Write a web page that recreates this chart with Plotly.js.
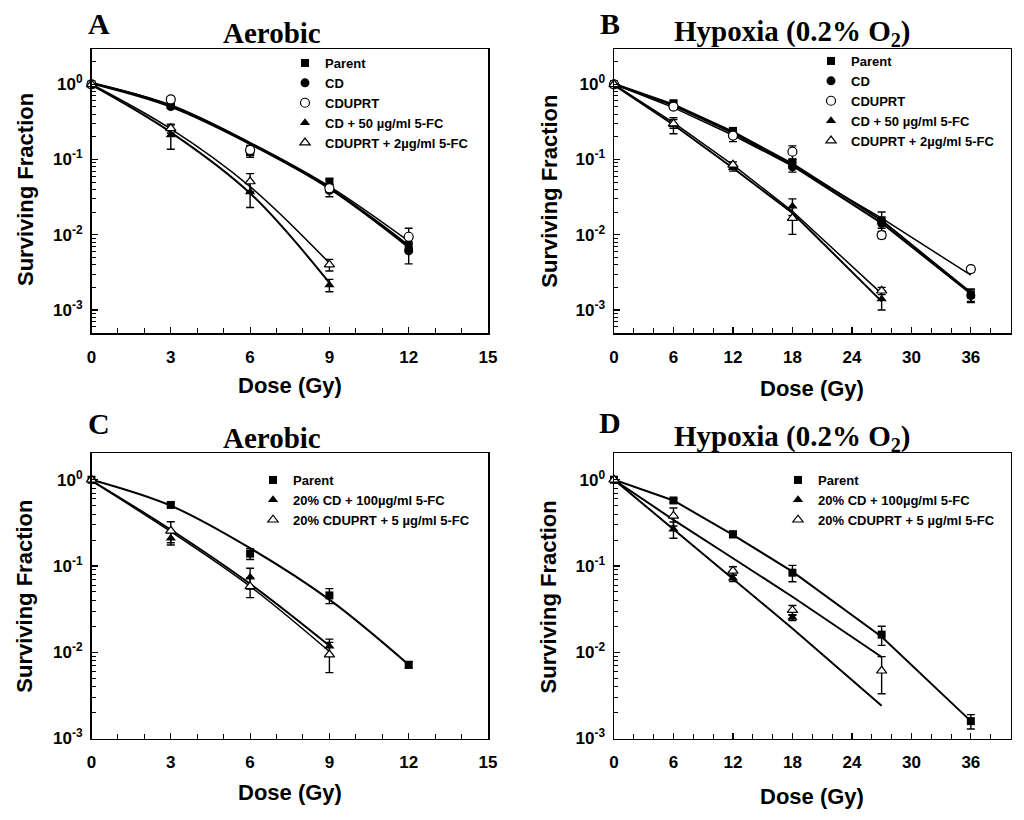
<!DOCTYPE html>
<html><head><meta charset="utf-8">
<script src="https://cdn.plot.ly/plotly-3.0.1.min.js"></script>
<style>html,body{margin:0;padding:0;background:#fff}#chart{width:1024px;height:820px}</style>
</head><body><div id="chart"></div>
<script>
// ---------- Panel A: Aerobic ----------
const doseA = [0, 3, 6, 9, 12];
const doseA4 = [0, 3, 6, 9];
const A_parent = [1, 0.53, 0.127, 0.051, 0.0070];
const A_parent_err = [null, 0.03, 0.012, 0.004, 0.0008];
const A_cd = [1, 0.505, 0.127, 0.039, 0.0061];
const A_cd_err = [null, 0.03, 0.02, 0.007, 0.002];
const A_cduprt = [1, 0.63, 0.134, 0.0415, 0.0094];
const A_cduprt_err = [null, 0.05, 0.02, 0.005, 0.0028];
const A_cd5fc = [1, 0.212, 0.037, 0.00215];
const A_cd5fc_err = [null, 0.075, 0.014, 0.0004];
const A_cduprt5fc = [1, 0.26, 0.051, 0.0040];
const A_cduprt5fc_err = [null, 0.035, 0.014, 0.0007];
const A_parent_fit = [1.04, 0.52, 0.165, 0.042, 0.0072];
const A_cd_fit = [1.02, 0.50, 0.160, 0.041, 0.0068];
const A_cduprt_fit = [1.05, 0.53, 0.168, 0.044, 0.0082];
const A_cd5fc_fit = [0.98, 0.23, 0.0356, 0.0023];
const A_cduprt5fc_fit = [1.0, 0.255, 0.0436, 0.0042];

// ---------- Panel B: Hypoxia ----------
const doseB = [0, 6, 12, 18, 27, 36];
const doseB5 = [0, 6, 12, 18, 27];
const B_parent = [1, 0.56, 0.24, 0.089, 0.0156, 0.0016];
const B_parent_err = [null, 0.04, 0.02, 0.012, 0.0045, 0.0003];
const B_cd = [1, 0.505, 0.22, 0.080, 0.0142, 0.00156];
const B_cd_err = [null, 0.03, 0.02, 0.012, 0.002, 0.0003];
const B_cduprt = [1, 0.505, 0.208, 0.127, 0.0099, 0.0035];
const B_cduprt_err = [null, 0.03, 0.035, 0.025, 0.001, 0.0003];
const B_cd5fc = [1, 0.29, 0.078, 0.024, 0.0014];
const B_cd5fc_err = [null, 0.07, 0.008, 0.006, 0.0004];
const B_cduprt5fc = [1, 0.30, 0.085, 0.0166, 0.0018];
const B_cduprt5fc_err = [null, 0.04, 0.008, 0.0065, 0.0002];
const B_parent_fit = [1.02, 0.54, 0.235, 0.088, 0.0155, 0.0017];
const B_cd_fit = [1.0, 0.52, 0.225, 0.083, 0.0143, 0.00165];
const B_cduprt_fit = [1.0, 0.49, 0.21, 0.082, 0.0166, 0.0029];
const B_cd5fc_fit = [0.98, 0.29, 0.077, 0.0195, 0.0013];
const B_cduprt5fc_fit = [1.0, 0.31, 0.085, 0.0205, 0.00165];

// ---------- Panel C: Aerobic, 20% mixtures ----------
const doseC = [0, 3, 6, 9, 12];
const doseC4 = [0, 3, 6, 9];
const C_parent = [1, 0.51, 0.139, 0.0456, 0.00716];
const C_parent_err = [null, 0.03, 0.02, 0.009, 0.0006];
const C_cd100 = [1, 0.21, 0.074, 0.0117];
const C_cd100_err = [null, 0.035, 0.02, 0.0025];
const C_cduprt5 = [1, 0.256, 0.058, 0.0094];
const C_cduprt5_err = [null, 0.07, 0.015, 0.0036];
const C_parent_fit = [1, 0.50, 0.161, 0.0407, 0.00716];
const C_cd100_fit = [0.98, 0.263, 0.062, 0.0119];
const C_cduprt5_fit = [0.97, 0.25, 0.058, 0.0102];

// ---------- Panel D: Hypoxia, 20% mixtures ----------
const doseD = [0, 6, 12, 18, 27, 36];
const doseD4 = [0, 6, 12, 18];
const doseD5 = [0, 6, 12, 18, 27];
const D_parent = [1, 0.575, 0.233, 0.0836, 0.016, 0.00159];
const D_parent_err = [null, 0.03, 0.02, 0.018, 0.004, 0.0003];
const D_cd100 = [1, 0.267, 0.072, 0.0253];
const D_cd100_err = [null, 0.057, 0.006, 0.002];
const D_cduprt5 = [1, 0.381, 0.088, 0.0308, 0.0061];
const D_cduprt5_err = [null, 0.09, 0.01, 0.004, 0.0028];
const D_parent_fit = [1, 0.575, 0.23, 0.086, 0.0151, 0.00159];
const D_cd100_fit = [1, 0.267, 0.072, 0.0189, 0.0024];
const D_cduprt5_fit = [1, 0.343, 0.123, 0.044, 0.0088];

// ---------- labels ----------
const namesAB = ['Parent', 'CD', 'CDUPRT', 'CD + 50 \u00b5g/ml 5-FC', 'CDUPRT + 2\u00b5g/ml 5-FC'];
const namesCD = ['Parent', '20% CD + 100\u00b5g/ml 5-FC', '20% CDUPRT + 5 \u00b5g/ml 5-FC'];
const yTickVals = [1, 0.1, 0.01, 0.001];
const yTickText = ['10<sup>0</sup>', '10<sup>-1</sup>', '10<sup>-2</sup>', '10<sup>-3</sup>'];
const titleAer = 'Aerobic';
const titleHyp = 'Hypoxia (0.2% O<sub>2</sub>)';
const yTitle = 'Surviving Fraction';
const xTitle = 'Dose (Gy)';

const SANS = '"Liberation Sans", Arial, sans-serif';
const SERIF = '"Liberation Serif", "Times New Roman", serif';

const ST = {
  sq:   {symbol: 'square', size: 8, fill: '#000', lw: 0},
  ci:   {symbol: 'circle', size: 9, fill: '#000', lw: 0},
  oci:  {symbol: 'circle', size: 9, fill: '#fff', lw: 1.2},
  tri:  {symbol: 'triangle-up', size: 9, fill: '#000', lw: 0},
  otri: {symbol: 'triangle-up', size: 9, fill: '#fff', lw: 1.2}
};

function axn(i) { return i === 1 ? '' : String(i); }
function marks(x, y, err, name, st, ax, leg) {
  return {type: 'scatter', mode: 'markers', x: x, y: y, name: name,
    xaxis: 'x' + axn(ax), yaxis: 'y' + axn(ax), legend: leg, showlegend: true,
    marker: {symbol: st.symbol, size: st.size, color: st.fill, line: {color: '#000', width: st.lw}},
    error_y: {type: 'data', array: err, visible: true, color: '#000', thickness: 1.4, width: 4},
    cliponaxis: false, hoverinfo: 'skip'};
}
function fit(x, y, ax, shape, w) {
  return {type: 'scatter', mode: 'lines', x: x, y: y, showlegend: false,
    xaxis: 'x' + axn(ax), yaxis: 'y' + axn(ax),
    line: {color: '#000', width: w || 2, shape: shape, smoothing: 1}, hoverinfo: 'skip'};
}

const traces = [
  fit(doseA, A_parent_fit, 1, 'spline'), fit(doseA, A_cd_fit, 1, 'spline'), fit(doseA, A_cduprt_fit, 1, 'spline', 1.5),
  fit(doseA4, A_cd5fc_fit, 1, 'spline'), fit(doseA4, A_cduprt5fc_fit, 1, 'spline', 1.5),
  fit(doseB, B_parent_fit, 2, 'linear'), fit(doseB, B_cd_fit, 2, 'linear'), fit(doseB, B_cduprt_fit, 2, 'linear', 1.5),
  fit(doseB5, B_cd5fc_fit, 2, 'linear'), fit(doseB5, B_cduprt5fc_fit, 2, 'linear', 1.5),
  fit(doseC, C_parent_fit, 3, 'spline'), fit(doseC4, C_cd100_fit, 3, 'spline'), fit(doseC4, C_cduprt5_fit, 3, 'spline', 1.5),
  fit(doseD, D_parent_fit, 4, 'linear'), fit(doseD5, D_cd100_fit, 4, 'linear'), fit(doseD5, D_cduprt5_fit, 4, 'linear'),

  marks(doseA, A_parent, A_parent_err, namesAB[0], ST.sq, 1, 'legend'),
  marks(doseA, A_cd, A_cd_err, namesAB[1], ST.ci, 1, 'legend'),
  marks(doseA, A_cduprt, A_cduprt_err, namesAB[2], ST.oci, 1, 'legend'),
  marks(doseA4, A_cd5fc, A_cd5fc_err, namesAB[3], ST.tri, 1, 'legend'),
  marks(doseA4, A_cduprt5fc, A_cduprt5fc_err, namesAB[4], ST.otri, 1, 'legend'),

  marks(doseB, B_parent, B_parent_err, namesAB[0], ST.sq, 2, 'legend2'),
  marks(doseB, B_cd, B_cd_err, namesAB[1], ST.ci, 2, 'legend2'),
  marks(doseB, B_cduprt, B_cduprt_err, namesAB[2], ST.oci, 2, 'legend2'),
  marks(doseB5, B_cd5fc, B_cd5fc_err, namesAB[3], ST.tri, 2, 'legend2'),
  marks(doseB5, B_cduprt5fc, B_cduprt5fc_err, namesAB[4], ST.otri, 2, 'legend2'),

  marks(doseC, C_parent, C_parent_err, namesCD[0], ST.sq, 3, 'legend3'),
  marks(doseC4, C_cd100, C_cd100_err, namesCD[1], ST.tri, 3, 'legend3'),
  marks(doseC4, C_cduprt5, C_cduprt5_err, namesCD[2], ST.otri, 3, 'legend3'),

  marks(doseD, D_parent, D_parent_err, namesCD[0], ST.sq, 4, 'legend4'),
  marks(doseD4, D_cd100, D_cd100_err, namesCD[1], ST.tri, 4, 'legend4'),
  marks(doseD5, D_cduprt5, D_cduprt5_err, namesCD[2], ST.otri, 4, 'legend4')
];

const W = 1024, H = 820;
const px = v => v / W, py = v => 1 - v / H;

const minorY = [];
for (let d = -4; d <= 0; d++) for (let k = 2; k <= 9; k++) minorY.push(k * Math.pow(10, d));

const tickFont = {family: SANS, size: 17, color: '#000', weight: 'bold'};
function xAxis(dom, yref, max, dt, mdt) {
  return {domain: dom, anchor: yref, range: [0, max], tickmode: 'linear', tick0: 0, dtick: dt,
    showline: true, linecolor: '#000', linewidth: 1.5, mirror: true, showgrid: false, zeroline: false,
    ticks: 'inside', ticklen: 6, tickwidth: 1.2, tickcolor: '#000', tickfont: tickFont, ticklabelstandoff: 8,
    minor: {tickmode: 'linear', tick0: 0, dtick: mdt, ticks: 'inside', ticklen: 5, tickwidth: 1, tickcolor: '#000'}};
}
function yAxis(dom, xref, rng) {
  return {domain: dom, anchor: xref, type: 'log', range: rng, tickmode: 'array', tickvals: yTickVals, ticktext: yTickText,
    showline: true, linecolor: '#000', linewidth: 1.5, mirror: true, showgrid: false, zeroline: false,
    ticks: 'inside', ticklen: 6, tickwidth: 1.2, tickcolor: '#000', tickfont: tickFont, ticklabelstandoff: 4,
    minor: {tickmode: 'array', tickvals: minorY, ticks: 'inside', ticklen: 4, tickwidth: 1, tickcolor: '#000'}};
}

const domXL = [px(91.5), px(488)], domXR = [px(614), px(1010.5)];
const domYT = [py(333), py(49)], domYB = [py(738.5), py(453)];

function ann(text, x, y, font, extra) {
  return Object.assign({text: text, x: px(x), y: py(y), xref: 'paper', yref: 'paper', showarrow: false,
    xanchor: 'center', yanchor: 'middle', font: font}, extra || {});
}
const letterFont = {family: SERIF, size: 30, color: '#000', weight: 'bold'};
const titleFont = {family: SERIF, size: 29, color: '#000', weight: 'bold'};
const axTitleFont = {family: SANS, size: 22, color: '#000', weight: 'bold'};

const legFont = {family: SANS, size: 13, color: '#000', weight: 'bold'};
function leg(x, y) {
  return {x: px(x), y: py(y), xanchor: 'left', yanchor: 'top', bgcolor: 'rgba(0,0,0,0)', borderwidth: 0,
    font: legFont, tracegroupgap: 0, itemwidth: 30, traceorder: 'normal'};
}

const layout = {
  width: W, height: H, margin: {l: 0, r: 0, t: 0, b: 0}, paper_bgcolor: '#fff', plot_bgcolor: '#fff',
  showlegend: true,
  xaxis: xAxis(domXL, 'y', 15, 3, 1), yaxis: yAxis(domYT, 'x', [-3.306, 0.469]),
  xaxis2: xAxis(domXR, 'y2', 40, 6, 2), yaxis2: yAxis(domYT, 'x2', [-3.306, 0.469]),
  xaxis3: xAxis(domXL, 'y3', 15, 3, 1), yaxis3: yAxis(domYB, 'x3', [-3, 0.31]),
  xaxis4: xAxis(domXR, 'y4', 40, 6, 2), yaxis4: yAxis(domYB, 'x4', [-3, 0.31]),
  legend: leg(285, 48), legend2: leg(811, 46), legend3: leg(253, 465), legend4: leg(778, 465),
  annotations: [
    ann('A', 98.7, 23, letterFont), ann('B', 609.8, 23, letterFont),
    ann('C', 98.5, 423, letterFont), ann('D', 609.8, 422, letterFont),
    ann(titleAer, 272, 32.7, titleFont), ann(titleHyp, 792, 32.7, titleFont),
    ann(titleAer, 272, 437.5, titleFont), ann(titleHyp, 792, 437.5, titleFont),
    ann(yTitle, 25, 190, axTitleFont, {textangle: -90}), ann(yTitle, 548.7, 191, axTitleFont, {textangle: -90}),
    ann(yTitle, 25, 596.7, axTitleFont, {textangle: -90}), ann(yTitle, 548.7, 596.7, axTitleFont, {textangle: -90}),
    ann(xTitle, 289.7, 385, axTitleFont), ann(xTitle, 812, 388, axTitleFont),
    ann(xTitle, 289.7, 792, axTitleFont), ann(xTitle, 812, 796, axTitleFont)
  ]
};

Plotly.newPlot('chart', traces, layout, {displayModeBar: false, staticPlot: true});
</script></body></html>
